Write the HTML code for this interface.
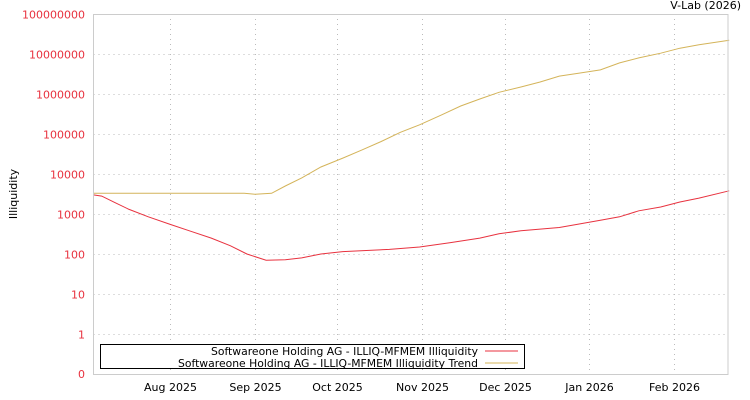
<!DOCTYPE html>
<html><head><meta charset="utf-8"><style>
body{margin:0;background:#fff;}
svg{display:block;font-family:"DejaVu Sans","Liberation Sans",sans-serif;}
</style></head><body>
<svg id="chart" width="750" height="400">
<text x="741" y="9" font-size="11" text-anchor="end" fill="#000">V-Lab (2026)</text>
<text transform="translate(17,194) rotate(-90)" font-size="11" text-anchor="middle" fill="#000">Illiquidity</text>
<g id="grid"></g><g id="series"></g>
<rect x="93.5" y="14.5" width="634.5" height="360" fill="none" stroke="#ccc"/>
<g>
<rect x="100.5" y="344.5" width="424" height="24" fill="#fff" stroke="#000"/>
<text x="478" y="355" font-size="10.8" text-anchor="end">Softwareone Holding AG - ILLIQ-MFMEM Illiquidity</text>
<line x1="485" y1="351" x2="518" y2="351" stroke="#e8323f"/>
<text x="478" y="367" font-size="10.8" text-anchor="end">Softwareone Holding AG - ILLIQ-MFMEM Illiquidity Trend</text>
<line x1="485" y1="363" x2="518" y2="363" stroke="#d4b45a"/>
</g>
</svg>
<script>
const yTicks=[1,10,100,1000,10000,100000,1000000,10000000,100000000];
const monthLabels=["Aug 2025","Sep 2025","Oct 2025","Nov 2025","Dec 2025","Jan 2026","Feb 2026"];
const monthDays=[28,59,89,120,150,181,212]; // days since Jul 4 2025
const illiqDays=[0,3,8,13,20,28,35,43,50,56,63,70,76,83,91,108,119,130,141,148,156,163,170,177,185,192,199,207,214,221,232];
const illiqVals=[3000,2800,1900,1300,850,550,380,250,160,100,70,72,80,100,115,130,150,190,250,320,380,420,460,560,700,850,1200,1500,2000,2500,3800];
const trendDays=[0,55,59,65,70,76,83,91,98,105,112,119,127,134,141,148,156,163,170,177,185,192,199,207,214,221,232];
const trendVals=[3300,3300,3100,3300,5000,8000,15000,25000,40000,65000,110000,170000,300000,500000,750000,1100000,1500000,2000000,2800000,3300000,4000000,6000000,8000000,10500000,14000000,17000000,22000000];
const X0=93.5,PX=2.74,YB=334;
const xs=d=>X0+d*PX;
const ys=v=>YB-40*Math.log10(v);
const NS="http://www.w3.org/2000/svg";
const svg=document.getElementById('chart'),grid=document.getElementById('grid'),ser=document.getElementById('series');
function mk(tag,a,p){const e=document.createElementNS(NS,tag);for(const k in a)e.setAttribute(k,a[k]);p.appendChild(e);return e;}
yTicks.forEach(v=>{const y=ys(v)+0.5;
const l=mk('line',{x1:93.5,x2:728,y1:y,y2:y,stroke:'#bbb','stroke-dasharray':'1,4'},grid);


const t=mk('text',{x:85,y:y+4,'font-size':11,'text-anchor':'end',fill:'#e8323f'},svg);t.textContent=String(v);

});
const z=mk('text',{x:85,y:378,'font-size':11,'text-anchor':'end',fill:'#e8323f'},svg);z.textContent='0';


monthDays.forEach((d,i)=>{const x=Math.round(xs(d))+0.5;
const l=mk('line',{x1:x,x2:x,y1:14,y2:374,stroke:'#bbb','stroke-dasharray':'1,4'},grid);


const t=mk('text',{x:x,y:391,'font-size':11,'text-anchor':'middle',fill:'#000'},svg);t.textContent=monthLabels[i];

});
function line(days,vals,col,name){const p=mk('polyline',{points:days.map((d,i)=>xs(d).toFixed(1)+','+ys(vals[i]).toFixed(1)).join(' '),fill:'none',stroke:col,'stroke-width':1},ser);

}
line(trendDays,trendVals,'#d4b45a','trend-line');
line(illiqDays,illiqVals,'#e8323f','illiquidity-line');
</script>
</body></html>
